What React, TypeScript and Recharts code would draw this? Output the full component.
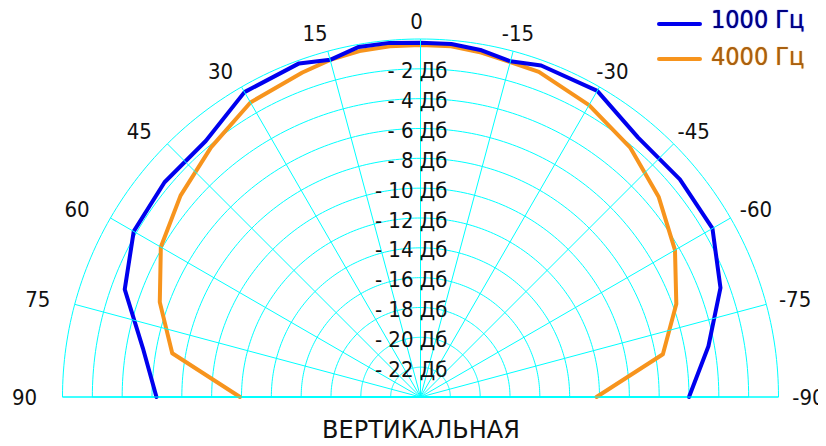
import { RadarChart, Radar, PolarGrid, PolarAngleAxis, PolarRadiusAxis } from 'recharts';

// angle of measurement, degrees (90 = left, 0 = top, -90 = right)
const angles = [90, 80, 70, 60, 50, 40, 30, 20, 15, 10, 5, 0, -5, -10, -15, -20, -30, -40, -50, -60, -70, -80, -90];
// level, dB
const level1000 = [-6.3, -5.1, -2.9, -1.8, -1.6, -1.6, -0.4, -0.2, -0.6, -0.17, -0.17, -0.25, -0.25, -0.4, -0.7, -0.35, -0.3, -1.3, -1.3, -1.4, -2.6, -4.4, -6.0];
const level4000 = [-11.9, -7.1, -5.4, -3.9, -3.0, -2.15, -1.2, -0.85, -0.6, -0.45, -0.4, -0.4, -0.4, -0.55, -0.75, -0.8, -1.4, -2.15, -3.15, -4.3, -5.75, -7.5, -12.2];

const angleTicks = [-90, -75, -60, -45, -30, -15, 0, 15, 30, 45, 60, 75, 90];
const levelTicks = [-22, -20, -18, -16, -14, -12, -10, -8, -6, -4, -2, 0];

const seriesNames = ['1000 Гц', '4000 Гц'];
const seriesColors = ['#0000ee', '#f7941d'];
const legendTextColors = ['#000080', '#a8600f'];

const data = angles.map((angle, i) => ({ angle, f1000: level1000[i], f4000: level4000[i] }));

const CX = 412.5;
const CY = 389;
const R = 358;
const GRID = '#00ffff';
const FONT = "'DejaVu Sans Condensed', 'DejaVu Sans', sans-serif";

// smooth rings: fine polygon over the half circle
const ringAngles = Array.from({ length: 181 }, (_, i) => i);

// spokes are the angle axis tick lines, pointing inward down to the centre
const AngleTick = (props: any) => {
  const { payload } = props;
  const rad = (-payload.coordinate * Math.PI) / 180;
  const tx = CX + Math.cos(rad) * 392 - 4;
  const ty = CY + Math.sin(rad) * 376;
  return (
    <text x={tx} y={ty} textAnchor="middle" dominantBaseline="central" fontSize={22} fontFamily={FONT} fill="#111" stroke="none">
      {String(payload.value)}
    </text>
  );
};

const LevelTick = (props: any) => {
  const { x, y, payload } = props;
  if (payload.value === 0) return <g />;
  return (
    <text x={x + 27} y={y + 2} textAnchor="end" dominantBaseline="central" fontSize={22} fontFamily={FONT} fill="#111" stroke="none">
      {`- ${Math.abs(payload.value)} Дб`}
    </text>
  );
};

const openLine = (color: string) => (props: any) => {
  const pts = props.points || [];
  const d = pts.map((p: any, i: number) => `${i ? 'L' : 'M'}${p.x},${p.y}`).join(' ');
  return <path d={d} fill="none" stroke={color} strokeWidth={4} strokeLinejoin="round" strokeLinecap="round" />;
};

export default function App() {
  return (
    <div style={{ position: 'relative', width: 818, height: 430 }}>
      <style>{`.recharts-polar-angle-axis-tick-line, .recharts-polar-angle-axis-tick line { stroke: ${GRID} !important; }`}</style>
      <RadarChart
        width={818}
        height={430}
        data={data}
        cx={CX}
        cy={CY}
        innerRadius={0}
        outerRadius={R}
        startAngle={0}
        endAngle={180}
        margin={{ top: 0, right: 0, bottom: 0, left: 0 }}
      >
        <PolarGrid gridType="polygon" polarAngles={ringAngles} radialLines={false} stroke={GRID} strokeWidth={1} />
        <PolarAngleAxis
          dataKey="angle"
          type="number"
          domain={[-90, 90]}
          ticks={angleTicks as any}
          tick={AngleTick}
          orientation="inner"
          tickSize={R}
          tickLine={{ stroke: GRID, strokeWidth: 1 }}
          axisLine={false}
          stroke={GRID}
        />
        <PolarRadiusAxis
          angle={90}
          type="number"
          domain={[-24, 0]}
          ticks={levelTicks as any}
          tick={LevelTick}
          tickLine={false}
          axisLine={false}
          stroke="none"
        />
        <Radar
          name={seriesNames[1]}
          dataKey="f4000"
          stroke={seriesColors[1]}
          fill="none"
          dot={false}
          activeDot={false}
          shape={openLine(seriesColors[1])}
          isAnimationActive={false}
        />
        <Radar
          name={seriesNames[0]}
          dataKey="f1000"
          stroke={seriesColors[0]}
          fill="none"
          dot={false}
          activeDot={false}
          shape={openLine(seriesColors[0])}
          isAnimationActive={false}
        />
      </RadarChart>

      {seriesNames.map((name, i) => (
        <div key={name}>
          <div
            style={{
              position: 'absolute',
              left: 649,
              top: 14 + i * 35,
              width: 45,
              height: 4,
              borderRadius: 2,
              background: seriesColors[i],
            }}
          />
          <div
            style={{
              position: 'absolute',
              left: 703,
              top: -3 + i * 37,
              fontFamily: FONT,
              fontSize: 25,
              lineHeight: '30px',
              whiteSpace: 'nowrap',
              color: legendTextColors[i],
              textShadow: `0 0 1px ${seriesColors[i]}`,
            }}
          >
            {name}
          </div>
        </div>
      ))}

      <div
        style={{
          position: 'absolute',
          left: 263,
          width: 300,
          top: 407,
          textAlign: 'center',
          fontFamily: "'DejaVu Sans', sans-serif",
          fontSize: 24,
          lineHeight: '30px',
          color: '#111',
        }}
      >
        ВЕРТИКАЛЬНАЯ
      </div>
    </div>
  );
}
